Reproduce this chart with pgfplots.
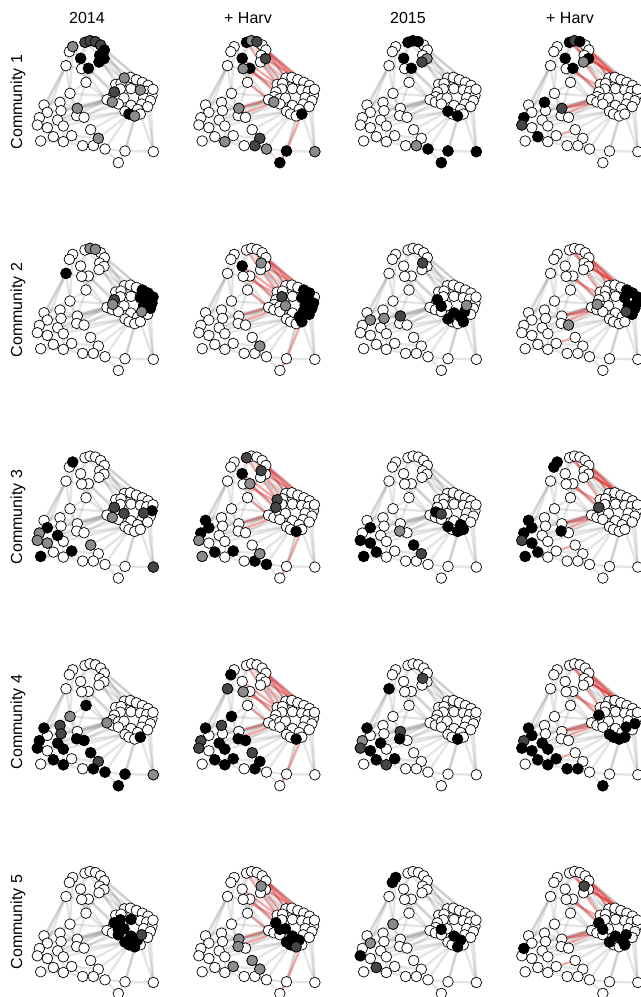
\documentclass[border=0pt]{standalone}
\usepackage{pgfplots}
\pgfplotsset{compat=1.18}
\usepackage{pgfplotstable}
\usepackage{fontspec}
\setmainfont{Liberation Sans}

% node layout (shared by all panels), panel units, y downward
\pgfplotstableread{
x y
143 50
133 65
180 37
195 32
211 35
227 45
238 60
224 76
237 86
222 96
167 85
190 115
170 116
123 107
183 157
135 190
298 144
316 142
334 149
352 157
369 166
272 163
288 160
286 177
318 176
346 180
365 184
381 196
268 186
263 200
246 209
262 216
280 206
297 204
356 203
376 212
280 222
350 222
368 230
318 226
338 238
300 244
312 252
329 258
346 252
384 178
57 225
105 217
67 247
108 242
157 235
43 263
98 270
155 257
177 262
37 285
67 293
115 288
197 299
85 320
140 317
220 325
47 333
115 335
173 347
205 347
240 357
300 363
385 365
280 398
}\nodes

% grey edges
\pgfplotstableread{
x1 y1 x2 y2
143 50 133 65
143 50 180 37
180 37 195 32
195 32 211 35
211 35 227 45
227 45 238 60
238 60 224 76
224 76 237 86
237 86 222 96
222 96 190 115
167 85 190 115
167 85 170 116
190 115 170 116
133 65 123 107
123 107 170 116
180 37 167 85
211 35 224 76
195 32 167 85
227 45 237 86
143 50 167 85
170 116 183 157
190 115 183 157
123 107 135 190
183 157 135 190
167 85 183 157
222 96 183 157
133 65 167 85
180 37 224 76
238 60 298 144
237 86 334 149
227 45 352 157
224 76 272 163
222 96 288 160
190 115 268 186
237 86 318 176
183 157 246 209
135 190 263 200
211 35 298 144
222 96 346 180
238 60 369 166
190 115 280 206
170 116 246 209
298 144 316 142
316 142 334 149
334 149 352 157
352 157 369 166
272 163 288 160
288 160 298 144
272 163 286 177
286 177 318 176
318 176 346 180
346 180 365 184
365 184 381 196
268 186 263 200
263 200 246 209
246 209 262 216
262 216 280 206
280 206 297 204
297 204 318 176
356 203 376 212
356 203 346 180
376 212 381 196
280 222 262 216
280 222 318 226
350 222 356 203
350 222 338 238
318 226 338 238
338 238 346 252
300 244 312 252
312 252 329 258
329 258 346 252
300 244 280 222
286 177 280 206
268 186 286 177
369 166 365 184
376 212 368 230
368 230 350 222
384 178 381 196
384 178 369 166
318 226 297 204
316 142 318 176
57 225 105 217
57 225 67 247
67 247 108 242
105 217 108 242
67 247 43 263
43 263 37 285
37 285 67 293
67 293 98 270
98 270 108 242
98 270 115 288
115 288 140 317
67 293 85 320
85 320 47 333
47 333 115 335
115 335 85 320
140 317 173 347
173 347 205 347
205 347 220 325
220 325 197 299
197 299 177 262
177 262 155 257
155 257 157 235
157 235 108 242
155 257 98 270
115 288 115 335
140 317 115 335
205 347 240 357
240 357 300 363
300 363 385 365
300 363 280 398
240 357 280 398
173 347 240 357
57 225 43 263
105 217 157 235
135 190 57 225
135 190 157 235
183 157 157 235
135 190 105 217
157 235 246 209
155 257 246 209
177 262 280 206
157 235 263 200
98 270 246 209
197 299 300 244
220 325 312 252
240 357 312 252
300 363 329 258
385 365 346 252
385 365 376 212
300 363 338 238
177 262 300 244
123 107 57 225
123 107 67 247
143 50 135 190
135 190 155 257
67 247 246 209
108 242 262 216
67 293 280 222
115 288 300 244
140 317 220 325
115 335 173 347
385 365 368 230
123 107 43 263
}\gedges

% red edges, first + Harv column
\pgfplotstableread{
x1 y1 x2 y2
180 37 222 96
195 32 237 86
227 45 298 144
238 60 316 142
237 86 352 157
222 96 272 163
224 76 288 160
190 115 268 186
167 85 272 163
183 157 246 209
170 116 286 177
272 163 297 204
268 186 318 226
246 209 338 238
157 235 246 209
155 257 262 216
220 325 197 299
300 363 346 252
280 398 300 363
240 357 205 347
211 35 334 149
238 60 352 157
}\redA

% red edges, second + Harv column
\pgfplotstableread{
x1 y1 x2 y2
180 37 224 76
195 32 222 96
227 45 298 144
238 60 316 142
237 86 352 157
224 76 369 166
222 96 272 163
211 35 334 149
190 115 268 186
170 116 286 177
157 235 246 209
157 235 262 216
155 257 280 206
67 247 43 263
67 293 85 320
140 317 197 299
167 85 170 116
238 60 334 149
237 86 369 166
263 200 318 226
262 216 300 244
37 285 43 263
108 242 98 270
}\redB

% shaded (non-white) nodes of each panel: x y shade
\pgfplotstableread{
x y s
143 50 0.45
180 37 0.72
195 32 0.72
211 35 0.72
227 45 0.72
238 60 1
224 76 1
237 86 1
222 96 1
167 85 1
190 115 1
298 144 0.45
346 180 0.45
268 186 0.72
262 216 0.45
312 252 1
329 258 0.45
157 235 0.45
220 325 0.45
}\pAa
\pgfplotstableread{
x y s
180 37 1
195 32 0.45
211 35 0.72
237 86 0.72
167 85 1
190 115 1
170 116 0.45
262 216 0.45
346 252 1
157 235 0.45
115 335 0.45
220 325 0.72
205 347 0.72
240 357 0.45
300 363 1
385 365 0.45
280 398 1
}\pBa
\pgfplotstableread{
x y s
180 37 1
195 32 1
211 35 1
237 86 0.45
222 96 0.72
167 85 1
190 115 1
300 244 1
329 258 1
205 347 0.45
240 357 1
300 363 1
385 365 1
280 398 1
}\pCa
\pgfplotstableread{
x y s
180 37 1
195 32 0.72
211 35 1
237 86 1
222 96 0.45
167 85 1
190 115 1
105 217 1
157 235 0.72
43 263 1
37 285 0.72
85 320 1
}\pDa
\pgfplotstableread{
x y s
195 32 0.45
211 35 0.45
123 107 1
352 157 1
369 166 1
346 180 1
365 184 1
381 196 1
356 203 1
376 212 1
384 178 1
350 222 0.45
268 186 0.72
263 200 0.45
}\pAb
\pgfplotstableread{
x y s
167 85 1
224 76 0.45
352 157 1
369 166 1
346 180 1
365 184 1
381 196 1
356 203 1
376 212 1
350 222 1
368 230 1
338 238 1
346 252 1
286 177 0.72
297 204 0.45
220 325 0.45
}\pBb
\pgfplotstableread{
x y s
224 76 0.72
268 186 1
280 206 1
318 226 1
338 238 1
300 244 1
346 252 1
350 222 1
356 203 0.45
108 242 0.45
157 235 0.72
67 247 0.45
}\pCb
\pgfplotstableread{
x y s
352 157 1
369 166 1
346 180 1
381 196 1
356 203 1
376 212 1
368 230 1
350 222 0.72
384 178 1
177 262 0.45
263 200 0.45
}\pDb
\pgfplotstableread{
x y s
143 50 1
268 186 0.72
297 204 0.72
262 216 0.45
381 196 1
356 203 0.72
67 247 1
43 263 0.45
37 285 0.45
47 333 1
67 293 0.45
98 270 1
140 317 1
385 365 0.72
197 299 0.45
}\pAc
\pgfplotstableread{
x y s
180 37 0.72
224 76 0.72
167 85 1
190 115 0.45
272 163 0.72
268 186 0.72
329 258 1
57 225 1
67 247 1
43 263 1
37 285 0.45
85 320 1
47 333 0.45
140 317 1
205 347 1
240 357 1
220 325 0.45
}\pBc
\pgfplotstableread{
x y s
263 200 1
280 206 0.72
338 238 1
300 244 1
329 258 1
346 252 1
67 247 1
37 285 1
67 293 1
85 320 1
47 333 1
155 257 0.45
197 299 1
220 325 0.72
}\pCc
\pgfplotstableread{
x y s
143 50 1
133 65 1
268 186 0.72
57 225 1
67 247 1
43 263 1
37 285 0.72
67 293 1
85 320 1
47 333 1
155 257 1
}\pDc
\pgfplotstableread{
x y s
183 157 1
135 190 0.45
246 209 0.45
346 252 1
105 217 0.72
57 225 1
108 242 0.72
155 257 1
177 262 1
43 263 1
98 270 1
37 285 1
115 288 1
197 299 1
85 320 1
220 325 0.72
115 335 1
205 347 1
240 357 1
300 363 1
385 365 0.45
280 398 1
}\pAd
\pgfplotstableread{
x y s
133 65 1
123 107 0.72
170 116 0.45
135 190 1
57 225 1
105 217 0.72
43 263 0.72
37 285 0.72
98 270 1
155 257 1
177 262 1
115 288 1
85 320 1
115 335 1
140 317 1
197 299 0.72
220 325 1
205 347 1
329 258 1
}\pBd
\pgfplotstableread{
x y s
224 76 0.72
123 107 1
57 225 1
157 235 0.72
43 263 0.45
98 270 1
155 257 1
37 285 0.72
67 293 1
85 320 1
140 317 1
115 335 0.72
329 258 1
}\pCd
\pgfplotstableread{
x y s
57 225 1
67 247 1
43 263 0.72
98 270 1
37 285 1
67 293 1
115 288 1
85 320 1
115 335 1
140 317 1
173 347 1
205 347 1
280 398 1
268 186 1
300 244 1
312 252 1
329 258 1
346 252 1
350 222 1
376 212 1
}\pDd
\pgfplotstableread{
x y s
286 177 1
318 176 1
268 186 1
280 206 1
297 204 1
280 222 1
318 226 1
338 238 1
300 244 1
312 252 1
329 258 1
350 222 0.72
}\pAe
\pgfplotstableread{
x y s
224 76 0.45
268 186 1
280 206 1
297 204 1
318 226 1
338 238 1
300 244 1
312 252 1
329 258 0.72
157 235 0.45
155 257 0.45
197 299 0.45
220 325 0.45
140 317 0.45
}\pBe
\pgfplotstableread{
x y s
143 50 1
133 65 1
135 190 0.45
280 206 1
318 226 1
338 238 1
329 258 1
37 285 1
85 320 0.72
67 247 0.45
}\pCe
\pgfplotstableread{
x y s
224 76 0.72
268 186 1
280 206 1
318 226 1
338 238 1
300 244 1
346 252 1
350 222 1
43 263 1
}\pDe

\pgfplotsset{
  netpanel/.style={scale only axis, width=72.5pt, height=72.5pt,
    xmin=0, xmax=435, ymin=0, ymax=435, y dir=reverse,
    hide axis, clip=false, anchor=north west,
    colormap={wb}{color=(white) color=(black)},
    point meta min=0, point meta max=1},
  gedge/.style={quiver={u=\thisrow{x2}-\thisrow{x1}, v=\thisrow{y2}-\thisrow{y1}},
    draw=black, draw opacity=0.10, line width=1.2pt},
  redge/.style={quiver={u=\thisrow{x2}-\thisrow{x1}, v=\thisrow{y2}-\thisrow{y1}},
    draw={rgb,255:red,228;green,60;blue,60}, draw opacity=0.45, line width=1.1pt},
}

\newcommand\netnodes[1]{%
  \addplot[only marks, mark=*, mark size=2.65pt,
    mark options={fill=white, draw=black, line width=0.35pt}] table[x=x,y=y] {\nodes};
  \addplot[scatter, only marks, mark=*, mark size=2.65pt, scatter src=explicit,
    scatter/use mapped color={draw=black, fill=mapped color, line width=0.35pt}]
    table[x=x,y=y,meta=s] {#1};
}
\newcommand\plainnet[3]{%
  \begin{axis}[netpanel, at={({#1*0.5pt},{-#2*0.5pt})}]
    \addplot[gedge] table[x=x1,y=y1] {\gedges};
    \netnodes{#3}
  \end{axis}}
\newcommand\harvnet[4]{%
  \begin{axis}[netpanel, at={({#1*0.5pt},{-#2*0.5pt})}]
    \addplot[gedge] table[x=x1,y=y1] {\gedges};
    \addplot[redge] table[x=x1,y=y1] {#4};
    \netnodes{#3}
  \end{axis}}

\begin{document}
\begin{tikzpicture}
\path[use as bounding box, clip] (0,0) rectangle (320.5pt,-498.5pt);
% row 1
\plainnet{25}{30}{\pAa}
\harvnet{186.5}{30}{\pBa}{\redA}
\plainnet{348}{30}{\pCa}
\harvnet{509.5}{30}{\pDa}{\redB}
% row 2
\plainnet{25}{237.7}{\pAb}
\harvnet{186.5}{237.7}{\pBb}{\redA}
\plainnet{348}{237.7}{\pCb}
\harvnet{509.5}{237.7}{\pDb}{\redB}
% row 3
\plainnet{25}{445.4}{\pAc}
\harvnet{186.5}{445.4}{\pBc}{\redA}
\plainnet{348}{445.4}{\pCc}
\harvnet{509.5}{445.4}{\pDc}{\redB}
% row 4
\plainnet{25}{653.1}{\pAd}
\harvnet{186.5}{653.1}{\pBd}{\redA}
\plainnet{348}{653.1}{\pCd}
\harvnet{509.5}{653.1}{\pDd}{\redB}
% row 5
\plainnet{25}{860.8}{\pAe}
\harvnet{186.5}{860.8}{\pBe}{\redA}
\plainnet{348}{860.8}{\pCe}
\harvnet{509.5}{860.8}{\pDe}{\redB}
% headers
\begin{scope}[every node/.style={font=\fontsize{8}{9.6}\selectfont}]
\node at (43.5pt,-9pt) {2014};
\node at (124pt,-9pt) {+ Harv};
\node at (204pt,-9pt) {2015};
\node at (285pt,-9pt) {+ Harv};
\node[rotate=90] at (9pt,-51pt) {Community 1};
\node[rotate=90] at (9pt,-155pt) {Community 2};
\node[rotate=90] at (9pt,-258.5pt) {Community 3};
\node[rotate=90] at (9pt,-361pt) {Community 4};
\node[rotate=90] at (9pt,-461pt) {Community 5};
\end{scope}
\end{tikzpicture}
\end{document}
